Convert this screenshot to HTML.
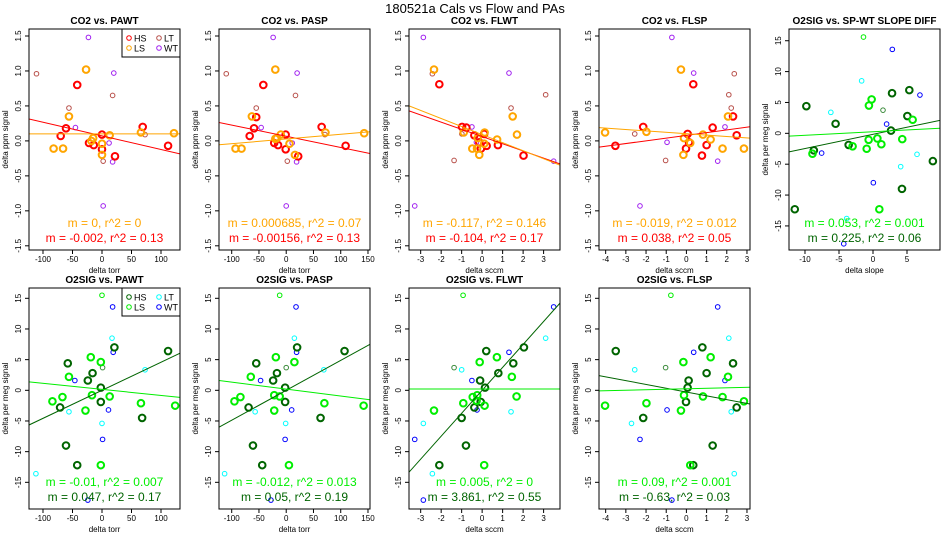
<!DOCTYPE html>
<html><head><meta charset="utf-8"><style>
body{margin:0;background:#fff;width:950px;height:550px;overflow:hidden}
svg{font-family:"Liberation Sans",sans-serif}
</style></head><body>
<svg id="chart" width="950" height="550" xmlns="http://www.w3.org/2000/svg">
<text x="475" y="13" text-anchor="middle" font-size="13">180521a   Cals vs Flow and PAs</text>
</svg>
<script>
// ---- data ----
const co2PawtHS=[[-42,0.8],[-61,0.18],[-70,0.07],[-22,-0.03],[-14,-0.06],[0,0.09],[0,-0.12],[22,-0.22],[69,0.2],[112,-0.07]];
const co2PawtLS=[[-27,1.02],[-56,0.35],[-82,-0.11],[-66,-0.11],[-18,0],[-15,0.04],[0,-0.04],[0,-0.2],[13,0.08],[66,0.12],[122,0.11]];
const co2PawtLT=[[-111,0.96],[-56,0.47],[18,0.65],[73,0.09],[2,-0.29]];
const co2PawtWT=[[-23,1.48],[20,0.97],[-45,0.19],[12,-0.03],[18,-0.3],[2,-0.93]];
const co2PaspHS=[[-42,0.8],[-55,0.34],[-59,0.18],[-67,0.07],[-22,-0.03],[-15,-0.06],[-1,0.09],[-1,-0.12],[22,-0.22],[65,0.2],[109,-0.07]];
const co2PaspLS=[[-20,1.02],[-63,0.35],[-93,-0.11],[-82,-0.11],[-20,0.03],[-17,0.04],[-10,0.09],[6,-0.04],[16,-0.2],[72,0.12],[143,0.11]];
const co2PaspLT=[[-110,0.96],[-55,0.47],[17,0.65],[71,0.09],[2,-0.29]];
const co2PaspWT=[[-24,1.48],[20,0.97],[-46,0.19],[11,-0.03],[19,-0.3],[0,-0.93]];
const co2FlwtHS=[[-2.09,0.81],[-0.98,0.2],[-0.77,0.19],[-0.38,0.08],[0.1,0.1],[-0.14,-0.02],[-0.06,-0.11],[0.22,-0.07],[0.77,-0.06],[2.02,-0.21]];
const co2FlwtLS=[[-2.35,1.02],[1.49,0.35],[1.7,0.09],[0.73,0.02],[0.12,0.12],[-0.9,0.12],[-0.48,-0.11],[-0.25,-0.11],[-0.14,-0.2],[0.1,-0.04],[-0.22,0.04]];
const co2FlwtLT=[[-2.43,0.96],[1.41,0.47],[3.1,0.66],[-0.99,0.1],[-1.37,-0.28]];
const co2FlwtWT=[[-2.87,1.48],[1.31,0.97],[-0.5,0.2],[-0.28,-0.02],[3.49,-0.29],[-3.29,-0.93]];
const co2FlspHS=[[0.34,0.81],[-2.14,0.2],[1.3,0.19],[-3.52,-0.07],[0.06,0.1],[0.13,-0.02],[-0.02,-0.11],[1.0,-0.06],[0.77,-0.21],[2.31,0.35],[2.49,0.08]];
const co2FlspLS=[[-0.27,1.02],[2.06,0.35],[-4.03,0.12],[-1.98,0.13],[-0.12,0.04],[0.82,0.09],[1.2,0.02],[0.19,-0.03],[-0.15,-0.2],[1.79,-0.11],[2.85,-0.11]];
const co2FlspLT=[[2.37,0.96],[2.1,0.66],[2.22,0.47],[-2.56,0.1],[-1.03,-0.28]];
const co2FlspWT=[[-0.72,1.48],[0.36,0.97],[1.91,0.2],[-0.96,-0.02],[1.55,-0.29],[-2.3,-0.93]];
const o2SlopeHS=[[-9.8,4.4],[-5.5,1.55],[-8.7,-2.76],[-3.58,-1.88],[-11.5,-12.3],[2.8,6.5],[5.34,7.0],[5.05,2.8],[2.65,0.44],[4.26,-9.0],[8.8,-4.5]];
const o2SlopeLS=[[-0.2,5.5],[-0.6,4.5],[-8.9,-3.3],[-3.0,-2.1],[-0.93,-2.5],[-0.64,-1.05],[0.64,-0.83],[1.23,-1.77],[4.3,-0.94],[5.83,2.2],[0.93,-12.3]];
const o2SlopeLT=[[-1.67,8.5],[-6.2,3.4],[6.47,-3.4],[4.07,-5.4],[-3.87,-13.8]];
const o2SlopeWT=[[2.84,13.6],[6.9,6.2],[2.0,1.5],[-7.55,-3.2],[0.05,-8.0],[-4.3,-17.9]];
const o2SlopeThinLS=[[-1.4,15.6]];
const o2SlopeThinHS=[[1.47,3.75]];
const o2PawtHS=[[-58,4.4],[-16,2.8],[-24,1.6],[-2,0.44],[-2,-1.9],[-71,-2.8],[-61,-9.0],[-42,-12.2],[21,7.0],[112,6.4],[68,-4.5]];
const o2PawtLS=[[-19,5.4],[-2,4.6],[-56,2.2],[-17,-0.8],[13,-1.0],[-67,-1.1],[-84,-1.8],[-28,-3.3],[66,-2.1],[124,-2.5],[-2,-12.2]];
const o2PawtLT=[[17,8.5],[73,3.35],[-56,-3.5],[0,-5.4],[-112,-13.6]];
const o2PawtWT=[[18,13.6],[19,6.2],[-46,1.6],[11,-3.2],[1,-8.0],[-24,-17.9]];
const o2PawtThinLS=[[0,15.5]];
const o2PawtThinHS=[[1,3.7]];
const o2PaspHS=[[-55,4.4],[-17,2.8],[-24,1.6],[-2,0.44],[-2,-1.9],[-69,-2.8],[-61,-9.0],[-44,-12.2],[20,7.0],[107,6.4],[63,-4.5]];
const o2PaspLS=[[-19,5.4],[15,4.6],[-65,2.2],[-22,-0.8],[-12,-1.0],[-84,-1.1],[-95,-1.8],[-22,-3.3],[70,-2.1],[142,-2.5],[5,-12.2]];
const o2PaspLT=[[15,8.5],[69,3.35],[-57,-3.5],[-1,-5.4],[-113,-13.6]];
const o2PaspWT=[[18,13.6],[19,6.2],[-47,1.6],[10,-3.2],[-2,-8.0],[-28,-17.9]];
const o2PaspThinLS=[[-12,15.5]];
const o2PaspThinHS=[[0,3.7]];
const o2FlwtHS=[[2.04,7.0],[0.2,6.4],[1.52,4.4],[0.79,2.8],[-0.1,1.6],[0.14,0.44],[-0.07,-1.9],[-0.38,-2.8],[-1.0,-4.5],[-0.79,-9.0],[-2.09,-12.2]];
const o2FlwtLS=[[0.72,5.4],[-0.12,4.6],[1.45,2.2],[-0.46,-1.1],[-0.24,-0.8],[1.68,-1.0],[-0.92,-2.1],[-2.35,-3.3],[0.12,-2.5],[-0.27,-1.7],[0.1,-12.2]];
const o2FlwtLT=[[3.1,8.5],[-1.0,3.35],[1.41,-3.5],[-2.87,-5.4],[-2.43,-13.6]];
const o2FlwtWT=[[3.49,13.6],[1.31,6.2],[-0.5,1.6],[-0.25,-3.2],[-3.29,-8.0],[-2.87,-17.9]];
const o2FlwtThinLS=[[-0.93,15.5]];
const o2FlwtThinHS=[[-1.37,3.7]];
const o2FlspHS=[[-3.5,6.4],[0.79,7.0],[2.31,4.4],[1.0,2.8],[0.11,1.6],[0.06,0.44],[-0.02,-1.9],[-2.14,-4.5],[2.49,-2.8],[1.3,-9.0],[0.34,-12.2]];
const o2FlspLS=[[1.2,5.4],[-0.15,4.6],[2.06,2.2],[-0.12,-0.8],[0.82,-1.0],[1.79,-1.1],[2.85,-1.8],[-1.98,-2.1],[-0.27,-3.3],[-4.03,-2.5],[0.19,-12.2]];
const o2FlspLT=[[2.1,8.5],[-2.56,3.35],[2.22,-3.5],[-2.72,-5.4],[2.37,-13.6]];
const o2FlspWT=[[1.55,13.6],[0.36,6.2],[1.91,1.6],[-0.96,-3.2],[-2.3,-8.0],[-0.72,-17.9]];
const o2FlspThinLS=[[-0.77,15.5]];
const o2FlspThinHS=[[-1.03,3.7]];
// fit lines: [slope, intercept]
const fitsCo2Pawt=[[-0.00195,0.072],[0,0.1]];
const fitsCo2Pasp=[[-0.0016,0.066],[0.00067,0.027]];
const fitsCo2Flwt=[[-0.103,0.062],[-0.115,0.09]];
const fitsCo2Flsp=[[0.039,0.079],[-0.02,0.103]];
const fitsO2Slope=[[0.23,-0.16],[0.057,0.26]];
const fitsO2Pawt=[[0.0457,0.0],[-0.00984,0.15]];
const fitsO2Pasp=[[0.0488,0.0],[-0.01135,0.2]];
const fitsO2Flwt=[[3.74,0.0],[0,0.22]];
const fitsO2Flsp=[[-0.62,-0.28],[0.08,0.25]];
const statsCo2=[["m = 0, r^2 = 0","m = -0.002, r^2 = 0.13"],["m = 0.000685, r^2 = 0.07","m = -0.00156, r^2 = 0.13"],["m = -0.117, r^2 = 0.146","m = -0.104, r^2 = 0.17"],["m = -0.019, r^2 = 0.012","m = 0.038, r^2 = 0.05"]];
const statsO2=[["m = 0.053, r^2 = 0.001","m = 0.225, r^2 = 0.06"],["m = -0.01, r^2 = 0.007","m = 0.047, r^2 = 0.17"],["m = -0.012, r^2 = 0.013","m = 0.05, r^2 = 0.19"],["m = 0.005, r^2 = 0","m = 3.861, r^2 = 0.55"],["m = 0.09, r^2 = 0.001","m = -0.63, r^2 = 0.03"]];
const tickTorr1=[-100,-50,0,50,100];
const tickTorr2=[-100,-50,0,50,100,150];
const tickSccmWT=[-3,-2,-1,0,1,2,3];
const tickSccmSP=[-4,-3,-2,-1,0,1,2,3];
const tickSlope=[-10,-5,0,5];
const tickCo2Y=[-1.5,-1.0,-0.5,0.0,0.5,1.0,1.5];
const tickO2Y=[-15,-10,-5,0,5,10,15];

const NS="http://www.w3.org/2000/svg";
const svg=document.getElementById('chart');
function mk(tag,attrs,parent){const e=document.createElementNS(NS,tag);for(const k in attrs)e.setAttribute(k,attrs[k]);(parent||svg).appendChild(e);return e;}
const C={hs:'#ff0000',ls:'#ffa500',lt:'#b8504a',wt:'#a020f0',ghs:'#006400',gls:'#00ee00',glt:'#00ffff',gwt:'#0000ff',gthinhs:'#3a8a3a'};

function panel(p){
  const g=mk('g',{});
  
  
  const L=p.ox+29,R=p.ox+180,T=p.oy+29,B=p.oy+250;
  const sx=v=>L+(v-p.xlim[0])/(p.xlim[1]-p.xlim[0])*(R-L);
  const sy=v=>B-(v-p.ylim[0])/(p.ylim[1]-p.ylim[0])*(B-T);
  const clip='c'+p.name;
  const cp=mk('clipPath',{id:clip},g);mk('rect',{x:L,y:T,width:R-L,height:B-T},cp);
  const t=mk('text',{x:(L+R)/2,y:p.oy+24,'text-anchor':'middle','font-size':'10','font-weight':'bold'},g);t.textContent=p.title;
  
  const ya=mk('g',{},g);
  mk('line',{x1:L,x2:L,y1:sy(p.yt[0]),y2:sy(p.yt[p.yt.length-1]),stroke:'#000'},ya);
  p.yt.forEach((v,i)=>{const y=sy(v);mk('line',{x1:L-4,x2:L,y1:y,y2:y,stroke:'#000'},ya);
    const tx=mk('text',{x:0,y:0,transform:`translate(${L-8},${y}) rotate(-90)`,'text-anchor':'middle','font-size':'8'},ya);tx.textContent=p.ytl[i];});
  const yl=mk('text',{x:0,y:0,transform:`translate(${p.ox+8},${(T+B)/2}) rotate(-90)`,'text-anchor':'middle','font-size':'8'},g);yl.textContent=p.ylab;
  
  const xa=mk('g',{},g);
  mk('line',{x1:sx(p.xt[0]),x2:sx(p.xt[p.xt.length-1]),y1:B,y2:B,stroke:'#000'},xa);
  p.xt.forEach(v=>{const x=sx(v);mk('line',{x1:x,x2:x,y1:B,y2:B+4,stroke:'#000'},xa);
    const tx=mk('text',{x:x,y:B+12,'text-anchor':'middle','font-size':'8'},xa);tx.textContent=v;});
  const xl=mk('text',{x:(L+R)/2,y:B+23,'text-anchor':'middle','font-size':'8'},g);xl.textContent=p.xlab;
  
  const pg=mk('g',{'clip-path':`url(#${clip})`},g);
  p.series.forEach(s=>{s.d.forEach(pt=>{
    const c=mk('circle',{cx:sx(pt[0]),cy:sy(pt[1]),r:s.thick?3.3:2.3,fill:'none',stroke:s.c,'stroke-width':s.thick?2:1},pg);
    });});
  p.fits.forEach((f,i)=>{const x0=p.xlim[0],x1=p.xlim[1];
    const ln=mk('line',{x1:sx(x0),y1:sy(f[0]*x0+f[1]),x2:sx(x1),y2:sy(f[0]*x1+f[1]),stroke:p.fitC[i],'stroke-width':1},pg);
    });
  p.stats.forEach((s,i)=>{const tx=mk('text',{x:(L+R)/2,y:T+p.statY[i],'text-anchor':'middle','font-size':'12',fill:p.statC[i]},g);tx.textContent=s;
    });
  mk('rect',{x:L,y:T,width:R-L,height:B-T,fill:'none',stroke:'#000'},g);
  if(p.legend){const lg=mk('g',{},g);
    mk('rect',{x:R-58,y:T,width:58,height:28,fill:'#fff',stroke:'#000'},lg);
    p.legend.forEach((e,i)=>{const cx=R-51+(i>1?30:0),cy=T+9+(i%2)*10;
      mk('circle',{cx:cx,cy:cy,r:2.3,fill:'none',stroke:e[1]},lg);
      const tx=mk('text',{x:cx+5,y:cy+3.5,'font-size':'9'},lg);tx.textContent=e[0];});}
}
const Y1=[-1.56,1.6],Y2=[-19.35,16.68],Y5=[-18.9,16.9];
const xT1=[-123.7,132.2],xT2=[-123.3,153.7],xW=[-3.57,3.8],xS=[-4.33,3.15],xSl=[-12.35,9.85];
const co2Y=tickCo2Y.map(v=>v.toFixed(1)),o2Y=tickO2Y.map(String);
function co2(name,title,ox,xlim,xt,xlab,HS,LS,LT,WT,fits,st,legend){
  panel({name,title,ox,oy:0,xlim,ylim:Y1,xt,yt:tickCo2Y,ytl:co2Y,xlab,ylab:'delta ppm signal',
  series:[{d:LT,c:C.lt,k:'lt'},{d:WT,c:C.wt,k:'wt'},{d:HS,c:C.hs,thick:1,k:'hs'},{d:LS,c:C.ls,thick:1,k:'ls'}],
  fits,fitC:[C.hs,C.ls],stats:st,statC:[C.ls,C.hs],statY:[198,213],legend:legend?[['HS',C.hs],['LS',C.ls],['LT',C.lt],['WT',C.wt]]:null});}
function o2(name,title,ox,oy,xlim,ylim,xt,xlab,HS,LS,LT,WT,tLS,tHS,fits,st,legend){
  panel({name,title,ox,oy,xlim,ylim,xt,yt:tickO2Y,ytl:o2Y,xlab,ylab:'delta per meg signal',
  series:[{d:LT,c:C.glt,k:'lt'},{d:WT,c:C.gwt,k:'wt'},{d:tLS,c:C.gls,k:'ls-thin'},{d:tHS,c:C.gthinhs,k:'hs-thin'},{d:HS,c:C.ghs,thick:1,k:'hs'},{d:LS,c:C.gls,thick:1,k:'ls'}],
  fits,fitC:[C.ghs,C.gls],stats:st,statC:[C.gls,C.ghs],statY:[198,213],legend:legend?[['HS',C.ghs],['LS',C.gls],['LT',C.glt],['WT',C.gwt]]:null});}
co2('co2-vs-pawt','CO2 vs. PAWT',0,xT1,tickTorr1,'delta torr',co2PawtHS,co2PawtLS,co2PawtLT,co2PawtWT,fitsCo2Pawt,statsCo2[0],true);
co2('co2-vs-pasp','CO2 vs. PASP',190,xT2,tickTorr2,'delta torr',co2PaspHS,co2PaspLS,co2PaspLT,co2PaspWT,fitsCo2Pasp,statsCo2[1],false);
co2('co2-vs-flwt','CO2 vs. FLWT',380,xW,tickSccmWT,'delta sccm',co2FlwtHS,co2FlwtLS,co2FlwtLT,co2FlwtWT,fitsCo2Flwt,statsCo2[2],false);
co2('co2-vs-flsp','CO2 vs. FLSP',570,xS,tickSccmSP,'delta sccm',co2FlspHS,co2FlspLS,co2FlspLT,co2FlspWT,fitsCo2Flsp,statsCo2[3],false);
o2('o2sig-vs-slope-diff','O2SIG vs. SP-WT SLOPE DIFF',760,0,xSl,Y5,tickSlope,'delta slope',o2SlopeHS,o2SlopeLS,o2SlopeLT,o2SlopeWT,o2SlopeThinLS,o2SlopeThinHS,fitsO2Slope,statsO2[0],false);
o2('o2sig-vs-pawt','O2SIG vs. PAWT',0,259,xT1,Y2,tickTorr1,'delta torr',o2PawtHS,o2PawtLS,o2PawtLT,o2PawtWT,o2PawtThinLS,o2PawtThinHS,fitsO2Pawt,statsO2[1],true);
o2('o2sig-vs-pasp','O2SIG vs. PASP',190,259,xT2,Y2,tickTorr2,'delta torr',o2PaspHS,o2PaspLS,o2PaspLT,o2PaspWT,o2PaspThinLS,o2PaspThinHS,fitsO2Pasp,statsO2[2],false);
o2('o2sig-vs-flwt','O2SIG vs. FLWT',380,259,xW,Y2,tickSccmWT,'delta sccm',o2FlwtHS,o2FlwtLS,o2FlwtLT,o2FlwtWT,o2FlwtThinLS,o2FlwtThinHS,fitsO2Flwt,statsO2[3],false);
o2('o2sig-vs-flsp','O2SIG vs. FLSP',570,259,xS,Y2,tickSccmSP,'delta sccm',o2FlspHS,o2FlspLS,o2FlspLT,o2FlspWT,o2FlspThinLS,o2FlspThinHS,fitsO2Flsp,statsO2[4],false);
</script>
</body></html>
